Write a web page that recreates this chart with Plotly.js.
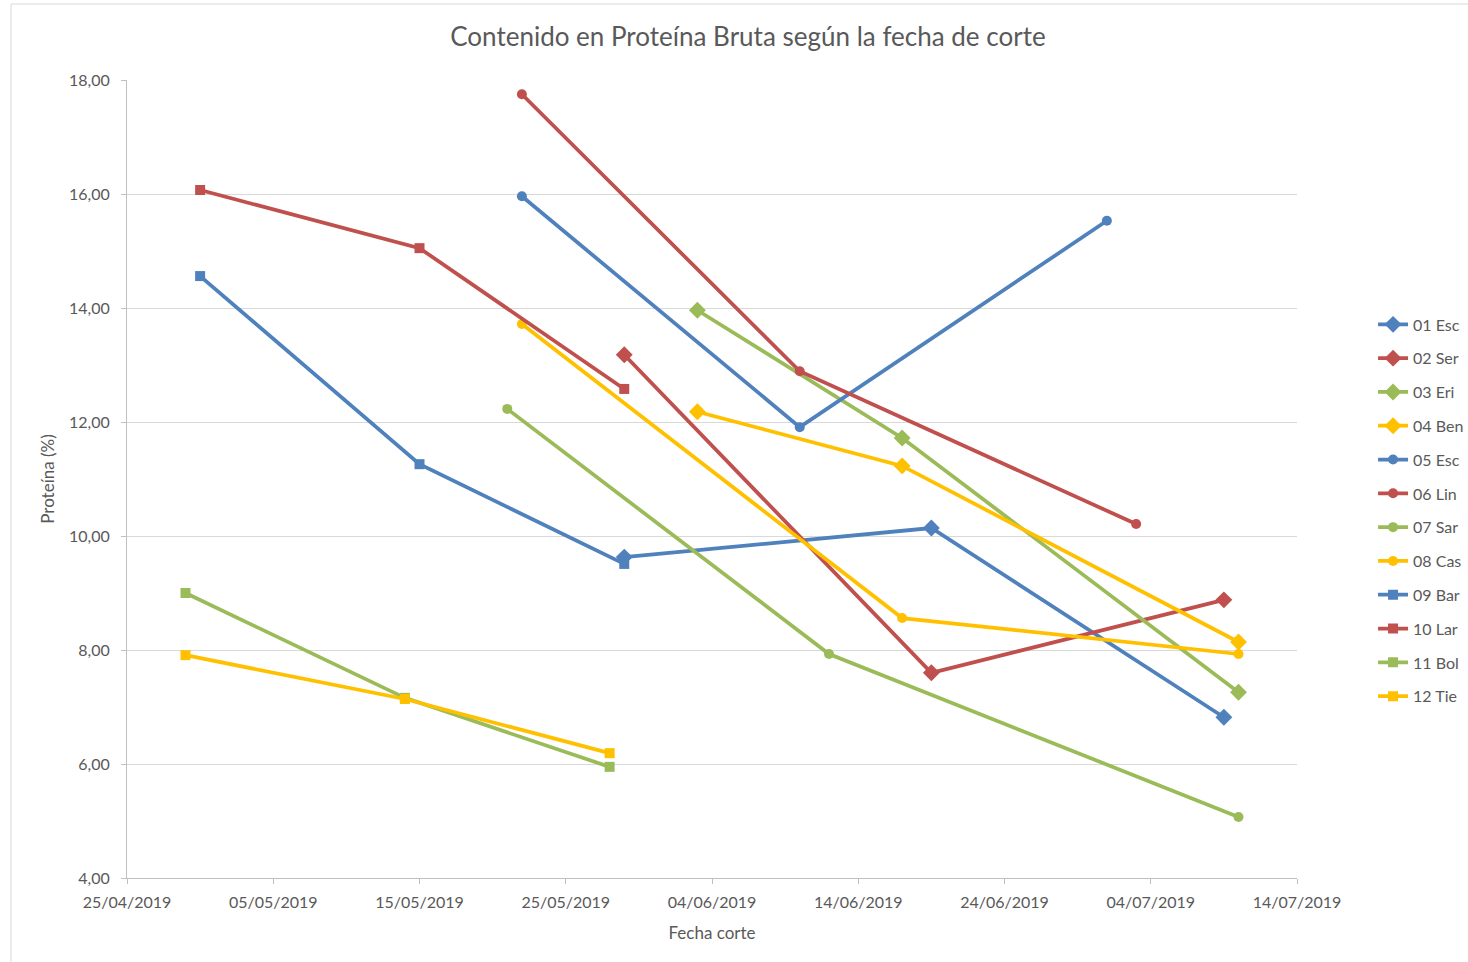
<!DOCTYPE html>
<html>
<head>
<meta charset="utf-8">
<script src="https://cdn.plot.ly/plotly-3.0.1.min.js"></script>
<style>html,body{margin:0;padding:0;background:#fff;}#chart{width:1468px;height:962px;}</style>
</head>
<body>
<div id="chart"></div>
<script>
const seriesNames = ["01 Esc","02 Ser","03 Eri","04 Ben","05 Esc","06 Lin","07 Sar","08 Cas","09 Bar","10 Lar","11 Bol","12 Tie"];
const esc01Dates = ["2019-05-29","2019-06-19","2019-07-09"];
const esc01Vals  = [9.63, 10.14, 6.82];
const ser02Dates = ["2019-05-29","2019-06-19","2019-07-09"];
const ser02Vals  = [13.18, 7.60, 8.88];
const eri03Dates = ["2019-06-03","2019-06-17","2019-07-10"];
const eri03Vals  = [13.96, 11.72, 7.26];
const ben04Dates = ["2019-06-03","2019-06-17","2019-07-10"];
const ben04Vals  = [12.18, 11.23, 8.14];
const esc05Dates = ["2019-05-22","2019-06-10","2019-07-01"];
const esc05Vals  = [15.96, 11.91, 15.53];
const lin06Dates = ["2019-05-22","2019-06-10","2019-07-03"];
const lin06Vals  = [17.75, 12.89, 10.21];
const sar07Dates = ["2019-05-21","2019-06-12","2019-07-10"];
const sar07Vals  = [12.23, 7.93, 5.07];
const cas08Dates = ["2019-05-22","2019-06-17","2019-07-10"];
const cas08Vals  = [13.72, 8.56, 7.93];
const bar09Dates = ["2019-04-30","2019-05-15","2019-05-29"];
const bar09Vals  = [14.56, 11.26, 9.51];
const lar10Dates = ["2019-04-30","2019-05-15","2019-05-29"];
const lar10Vals  = [16.07, 15.05, 12.58];
const bol11Dates = ["2019-04-29","2019-05-14","2019-05-28"];
const bol11Vals  = [9.00, 7.16, 5.95];
const tie12Dates = ["2019-04-29","2019-05-14","2019-05-28"];
const tie12Vals  = [7.91, 7.14, 6.19];

const allDates = [esc01Dates, ser02Dates, eri03Dates, ben04Dates, esc05Dates, lin06Dates, sar07Dates, cas08Dates, bar09Dates, lar10Dates, bol11Dates, tie12Dates];
const allVals  = [esc01Vals, ser02Vals, eri03Vals, ben04Vals, esc05Vals, lin06Vals, sar07Vals, cas08Vals, bar09Vals, lar10Vals, bol11Vals, tie12Vals];

const palette = ["#4F81BD","#C0504D","#9BBB59","#FFC000"];
const symbols = ["diamond","circle","square"];
const symSizes = [13, 10, 10];

const traces = seriesNames.map((n, i) => ({
  type: "scatter",
  mode: "lines+markers",
  name: n,
  x: allDates[i],
  y: allVals[i],
  legendgroup: "g" + i,
  line: {color: palette[i % 4], width: 3.75},
  marker: {color: palette[i % 4], symbol: symbols[Math.floor(i / 4)], size: symSizes[Math.floor(i / 4)]}
}));

const layout = {
  width: 1468, height: 962,
  paper_bgcolor: "#ffffff", plot_bgcolor: "#ffffff",
  margin: {l: 127, r: 171, t: 80, b: 84, autoexpand: false},
  font: {family: "Lato, 'Open Sans', sans-serif", color: "#595959", size: 16},
  separators: ",.",
  title: {text: "Contenido en Proteína Bruta según la fecha de corte", font: {size: 26, color: "#595959"},
          x: 0.5095, xref: "container", y: 0.9615, yref: "container", xanchor: "center", yanchor: "middle"},
  xaxis: {
    type: "date",
    range: ["2019-04-25", "2019-07-14"],
    tick0: "2019-04-25", dtick: 864000000,
    tickformat: "%d/%m/%Y",
    automargin: false,
    showgrid: false, zeroline: false,
    showline: true, linecolor: "#BFBFBF", linewidth: 1,
    ticks: "outside", ticklen: 5, tickcolor: "#BFBFBF",
    ticklabelstandoff: 5,
    tickfont: {size: 16, color: "#595959"},
    title: {text: "Fecha corte", font: {size: 17, color: "#595959"}, standoff: 16}
  },
  yaxis: {
    range: [4, 18], dtick: 2, tickformat: ".2f",
    automargin: false,
    showgrid: true, gridcolor: "#D9D9D9", gridwidth: 1,
    zeroline: false,
    showline: true, linecolor: "#BFBFBF", linewidth: 1,
    ticks: "outside", ticklen: 5, tickcolor: "#BFBFBF",
    ticklabelstandoff: 8,
    tickfont: {size: 16, color: "#595959"},
    title: {text: "Proteína (%)", font: {size: 17, color: "#595959"}, standoff: 10}
  },
  legend: {
    x: 1.065, xanchor: "left", y: 0.715, yanchor: "top",
    font: {size: 16, color: "#595959"},
    traceorder: "grouped", tracegroupgap: 10,
    itemwidth: 30, bgcolor: "rgba(0,0,0,0)"
  },
  shapes: [{type: "rect", xref: "paper", yref: "paper", x0: -0.0991, x1: 1.16, y0: -0.11, y1: 1.0952,
            line: {color: "#D9D9D9", width: 1}, fillcolor: "rgba(0,0,0,0)", layer: "below"}]
};

Plotly.newPlot("chart", traces, layout, {displayModeBar: false, staticPlot: true});
</script>
</body>
</html>
